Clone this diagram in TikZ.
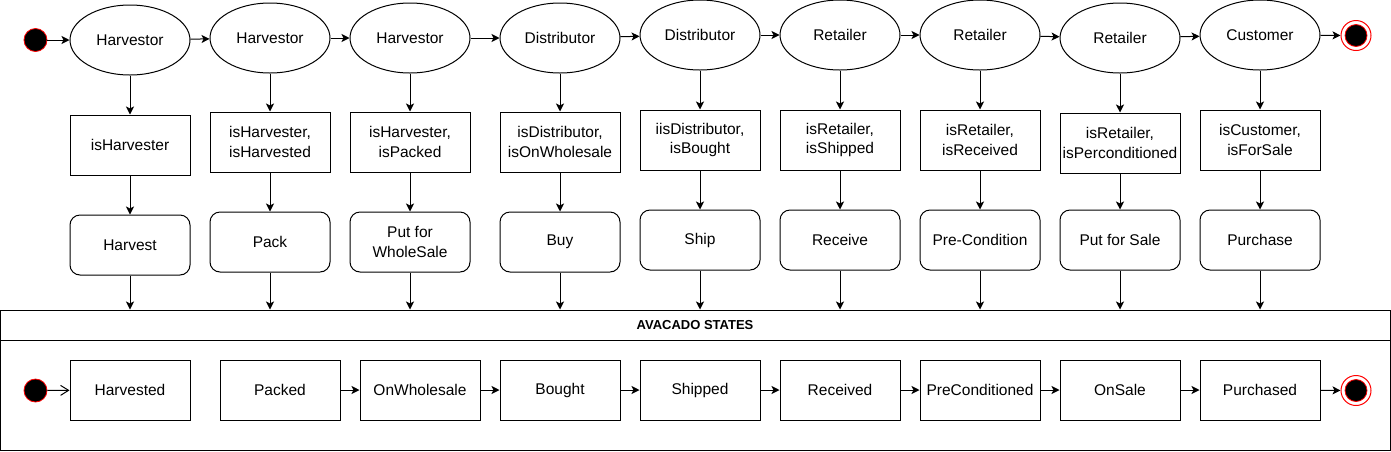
\documentclass[tikz,border=0pt]{standalone}
\usepackage{fontspec}
\setmainfont{Liberation Sans}
\usetikzlibrary{arrows.meta,shapes.geometric,positioning}

\begin{document}
\begin{tikzpicture}[x=1pt,y=-1pt,line width=1pt,
		font=\fontsize{15.5}{19.5}\selectfont]
	\useasboundingbox (0,0) rectangle (1391,451);

	\begin{scope}[every node/.style={ellipse,draw,minimum width=120pt,minimum height=70pt,inner sep=0pt}]
		\node (H1) at (130,40) {Harvestor};
		\node (H2) at (270,38) {Harvestor};
		\node (H3) at (410,38) {Harvestor};
		\node (D1) at (560,38) {Distributor};
		\node (D2) at (700,35) {Distributor};
		\node (R1) at (840,35) {Retailer};
		\node (R2) at (980,35) {Retailer};
		\node (R3) at (1120,38) {Retailer};
		\node (C1) at (1260,35) {Customer};
	\end{scope}

	\begin{scope}[every node/.style={rectangle,draw,minimum width=120pt,minimum height=60pt,inner sep=1pt,align=center}]
		\node (G1) at (130,145) {isHarvester};
		\node (G2) at (270,142) {isHarvester,\\isHarvested};
		\node (G3) at (410,142) {isHarvester,\\isPacked};
		\node (G4) at (560,142) {isDistributor,\\isOnWholesale};
		\node (G5) at (700,140) {iisDistributor,\\isBought};
		\node (G6) at (840,140) {isRetailer,\\isShipped};
		\node (G7) at (980,140) {isRetailer,\\isReceived};
		\node (G8) at (1120,143) {isRetailer,\\isPerconditioned};
		\node (G9) at (1260,140) {isCustomer,\\isForSale};
	\end{scope}

	\begin{scope}[every node/.style={rectangle,draw,rounded corners=10pt,minimum width=120pt,minimum height=60pt,inner sep=1pt,align=center}]
		\node (A1) at (130,245) {Harvest};
		\node (A2) at (270,242) {Pack};
		\node (A3) at (410,242) {Put for\\WholeSale};
		\node (A4) at (560,242) {Buy};
		\node (A5) at (700,240) {Ship};
		\node (A6) at (840,240) {Receive};
		\node (A7) at (980,240) {Pre-Condition};
		\node (A8) at (1120,240) {Put for Sale};
		\node (A9) at (1260,240) {Purchase};
	\end{scope}

	\node[draw,minimum width=1390pt,minimum height=30pt,inner sep=0pt,font=\fontsize{13}{15}\selectfont\bfseries] (head) at (695,325) {AVACADO STATES};
	\node[draw,minimum width=1390pt,minimum height=110pt,inner sep=0pt] (lane) at (695,395) {};

	\begin{scope}[every node/.style={rectangle,draw,minimum width=120pt,minimum height=60pt,inner sep=1pt}]
		\node (S1) at (130,390) {Harvested};
		\node (S2) at (280,390) {Packed};
		\node (S3) at (420,390) {OnWholesale};
		\node (S4) at (560,390) {Bought};
		\node (S5) at (700,390) {Shipped};
		\node (S6) at (840,390) {Received};
		\node (S7) at (980,390) {PreConditioned};
		\node (S8) at (1120,390) {OnSale};
		\node (S9) at (1260,390) {Purchased};
	\end{scope}

	\begin{scope}[every node/.style={circle,draw=red,fill=black,line width=0.8pt,minimum size=23pt,inner sep=0pt}]
		\node (start) at (35.5,40) {};
		\node (startS) at (35.5,390.5) {};
	\end{scope}
	\begin{scope}[every node/.style={circle,draw=red,line width=1pt,minimum size=30pt,inner sep=0pt}]
		\node (end) at (1356,35.5) {};
		\node (endS) at (1356,390.5) {};
	\end{scope}
	\node[circle,draw=red,fill=black,line width=0.8pt,minimum size=22pt,inner sep=0pt] (endin) at (end) {};
	\node[circle,draw=red,fill=black,line width=0.8pt,minimum size=22pt,inner sep=0pt] (endSin) at (endS) {};

	\begin{scope}[>={Stealth[length=8pt,width=8pt,inset=2pt]},
		every edge/.style={draw,->,line width=1pt}]
		\path (start) edge (H1);
		\path (H1) edge (H2);
		\path (H2) edge (H3);
		\path (H3) edge (D1);
		\path (D1) edge (D2);
		\path (D2) edge (R1);
		\path (R1) edge (R2);
		\path (R2) edge (R3);
		\path (R3) edge (C1);
		\path (C1) edge (end);
		\foreach \i/\j in {H1/G1,H2/G2,H3/G3,D1/G4,D2/G5,R1/G6,R2/G7,R3/G8,C1/G9}
			\path (\i) edge (\j);
		\foreach \i in {1,...,9}
			\path (G\i) edge (A\i);
		\foreach \i in {1,...,9}
			\path (A\i) edge (A\i |- head.north);
		\path (S2) edge (S3);
		\path (S3) edge (S4);
		\path (S4) edge (S5);
		\path (S5) edge (S6);
		\path (S6) edge (S7);
		\path (S7) edge (S8);
		\path (S8) edge (S9);
		\path (S9) edge (endS);
		\path (startS) edge[-{Straight Barb[length=8pt,width=10pt]}] (S1);
	\end{scope}
\end{tikzpicture}
\end{document}
